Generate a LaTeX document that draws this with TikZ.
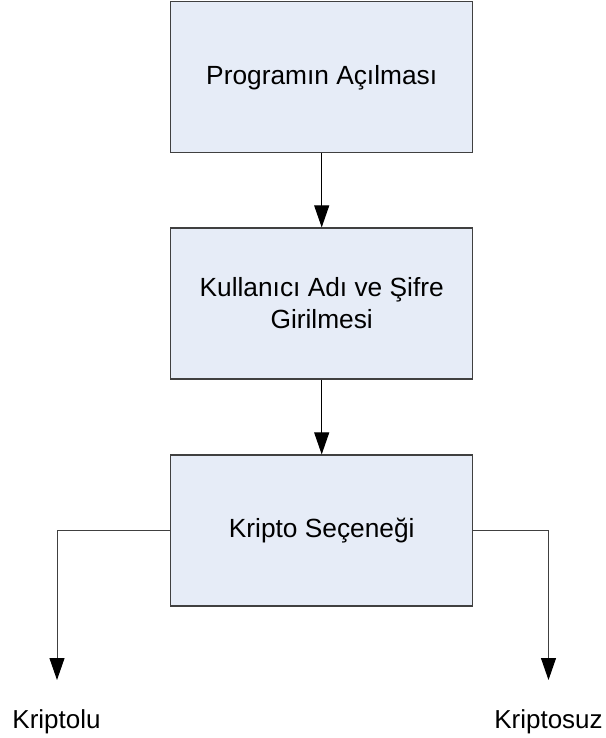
\documentclass[tikz,border=0pt]{standalone}
\usepackage{fontspec}
\setmainfont{Liberation Sans}
\usetikzlibrary{arrows.meta}
\definecolor{boxfill}{RGB}{230,236,247}
\definecolor{boxline}{RGB}{64,64,64}
\begin{document}
\begin{tikzpicture}[x=1pt,y=-1pt,
  stepbox/.style={draw=boxline,line width=1.2pt,fill=boxfill,minimum width=302pt,
    minimum height=151pt,inner sep=0pt,align=center,
    font=\fontsize{26.3}{32}\selectfont},
  flow/.style={draw=black,line width=1pt,-{Triangle[length=22pt,width=15pt,color=black]}},
  branch/.style={draw=boxline,line width=1pt,-{Triangle[length=22pt,width=15pt,color=black]}},
  outcome/.style={inner sep=0pt,font=\fontsize{26}{31}\selectfont}]
\useasboundingbox (0,0) rectangle (605,738);
\node[stepbox] (b1) at (321.7,77.3) {Programın Açılması};
\node[stepbox] (b2) at (321.7,303.5) {Kullanıcı Adı ve Şifre\\Girilmesi};
\node[stepbox] (b3) at (321.7,530.5) {Kripto Seçeneği};
\node[outcome,anchor=base] (kl) at (56.5,728) {Kriptolu};
\node[outcome,anchor=base] (ks) at (548.5,728) {Kriptosuz};
\coordinate (kltip) at (57,680);
\coordinate (kstip) at (548.5,680);
\draw[flow] (b1) -- (b2);
\draw[flow] (b2) -- (b3);
\draw[branch] (b3.west) -| (kltip);
\draw[branch] (b3.east) -| (kstip);
\end{tikzpicture}
\end{document}
